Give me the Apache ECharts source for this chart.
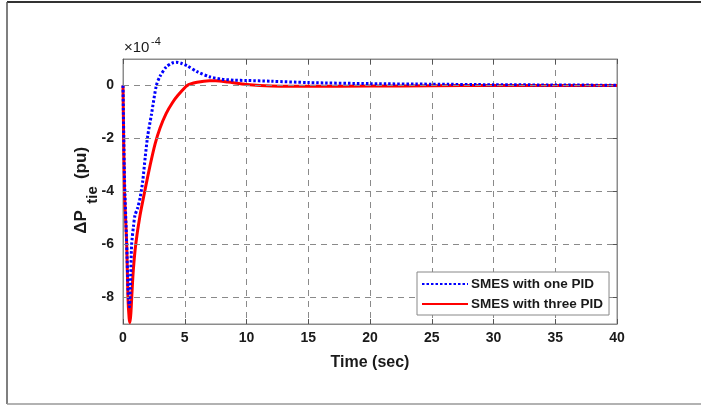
<!DOCTYPE html>
<html>
<head>
<meta charset="utf-8">
<script src="https://cdn.jsdelivr.net/npm/echarts@6/dist/echarts.min.js"></script>
<style>
    html, body { margin: 0; padding: 0; background: #fff; }
    #chart { width: 701px; height: 409px; }
</style>
</head>
<body>
<div id="chart"></div>
<script>
    // values in units of 1e-4 pu
    var timeOne = [0, 0.12, 0.3, 0.42, 0.52, 0.6, 0.7, 0.85, 0.97, 1.2, 1.4, 1.6, 1.8, 2.0, 2.3, 2.7, 3.0, 3.5, 4.0, 4.3, 4.7, 5.2, 6, 7, 8, 9, 10, 12, 15, 20, 25, 30, 35, 40];
    var oneValues = [0, -3.5, -6, -7.8, -8.35, -7.6, -6.0, -5.3, -4.9, -4.6, -4.2, -3.6, -2.7, -1.9, -1.1, 0, 0.35, 0.7, 0.85, 0.88, 0.84, 0.74, 0.52, 0.33, 0.24, 0.2, 0.19, 0.16, 0.11, 0.07, 0.05, 0.03, 0.02, 0.01];
    var timeThree = [0, 0.12, 0.3, 0.4, 0.5, 0.57, 0.65, 0.7, 0.83, 1.03, 1.38, 1.8, 2.2, 2.6, 3.0, 3.5, 4.0, 4.4, 5.2, 6, 7, 7.5, 8.5, 10, 12, 15, 20, 25, 30, 40];
    var threeValues = [0, -4, -6, -8, -8.8, -8.95, -8.5, -8.05, -7.0, -6.0, -4.9, -3.9, -3.0, -2.2, -1.6, -1.05, -0.65, -0.4, 0, 0.12, 0.18, 0.18, 0.13, 0.04, -0.02, -0.03, -0.02, -0.01, 0, 0];
    var yTicks = [-8, -6, -4, -2, 0];
    var seriesNames = ['SMES with one PID', 'SMES with three PID'];

    var font = 'Liberation Sans, Arial, sans-serif';
    var boxColor = '#8c8c8c';
    var gridColor = '#8a8a8a';

    function pairs(xs, ys) {
        return xs.map(function (x, i) { return [x, ys[i]]; });
    }

    var chart = echarts.init(document.getElementById('chart'));

    var xBase = {
        type: 'value',
        min: 0,
        max: 40,
        interval: 5,
        axisLine: { show: true, onZero: false, lineStyle: { color: boxColor, width: 1 } },
        axisTick: { show: true, inside: true, length: 5, lineStyle: { color: '#555' } },
        splitLine: { show: false }
    };
    var yBase = {
        type: 'value',
        min: -9,
        max: 1,
        interval: 1,
        axisLine: { show: true, onZero: false, lineStyle: { color: boxColor, width: 1 } },
        axisTick: { show: true, inside: true, length: 5, customValues: yTicks, lineStyle: { color: '#555' } },
        splitLine: { show: false }
    };

    var option = {
        animation: false,
        backgroundColor: '#fff',
        grid: { left: 123, right: 84, top: 59, bottom: 85, show: true, borderColor: boxColor, borderWidth: 1 },
        xAxis: [
            Object.assign({}, xBase, {
                position: 'bottom',
                name: 'Time (sec)',
                nameLocation: 'middle',
                nameGap: 31,
                nameTextStyle: { fontFamily: font, fontWeight: 'bold', fontSize: 16, color: '#1a1a1a' },
                axisLabel: { fontFamily: font, fontWeight: 'bold', fontSize: 14, color: '#1a1a1a', margin: 7 },
                splitLine: { show: true, lineStyle: { color: gridColor, type: [6, 5], width: 1 } }
            }),
            Object.assign({}, xBase, { position: 'top', axisLabel: { show: false } })
        ],
        yAxis: [
            Object.assign({}, yBase, {
                position: 'left',
                axisLabel: {
                    customValues: yTicks,
                    fontFamily: font, fontWeight: 'bold', fontSize: 14, color: '#1a1a1a', margin: 9
                }
            }),
            Object.assign({}, yBase, { position: 'right', axisLabel: { show: false } })
        ],
        legend: {
            data: seriesNames,
            orient: 'vertical',
            left: 417,
            top: 272,
            z: 20,
            itemWidth: 46,
            itemHeight: 14,
            itemGap: 6,
            padding: [5, 6, 4, 4],
            borderColor: '#888',
            borderWidth: 1,
            backgroundColor: '#fff',
            itemStyle: { opacity: 0 },
            textStyle: { fontFamily: font, fontWeight: 'bold', fontSize: 13.5, color: '#1a1a1a', padding: [0, 0, 0, -2] }
        },
        series: [
            {
                name: seriesNames[0],
                type: 'line',
                data: pairs(timeOne, oneValues),
                smooth: 0.25,
                showSymbol: false,
                symbol: 'none',
                z: 3,
                lineStyle: { color: '#0000ff', width: 3, type: [2.5, 2] },
                itemStyle: { color: '#0000ff' },
                markLine: {
                    silent: true,
                    symbol: 'none',
                    label: { show: false },
                    lineStyle: { color: gridColor, type: [6, 5], width: 1 },
                    data: yTicks.map(function (v) { return { yAxis: v }; })
                }
            },
            {
                name: seriesNames[1],
                type: 'line',
                data: pairs(timeThree, threeValues),
                smooth: 0.25,
                showSymbol: false,
                symbol: 'none',
                z: 2,
                lineStyle: { color: '#ff0000', width: 3 },
                itemStyle: { color: '#ff0000' }
            }
        ],
        graphic: [
            { type: 'line', shape: { x1: 7, y1: 2, x2: 701, y2: 2 }, style: { stroke: '#333', lineWidth: 2 } },
            { type: 'line', shape: { x1: 7, y1: 2, x2: 7, y2: 404 }, style: { stroke: '#555', lineWidth: 1.5 } },
            { type: 'line', shape: { x1: 7, y1: 404, x2: 701, y2: 404 }, style: { stroke: '#999', lineWidth: 1.5 } },
            { type: 'text', x: 124, y: 48, style: { text: '×10', font: '15px ' + font, fill: '#1a1a1a', textVerticalAlign: 'middle' } },
            { type: 'text', x: 151, y: 42, style: { text: '-4', font: '11px ' + font, fill: '#1a1a1a', textVerticalAlign: 'middle' } },
            { type: 'text', x: 81, y: 222, rotation: Math.PI / 2, style: { text: 'ΔP', font: 'bold 17px ' + font, fill: '#1a1a1a', textAlign: 'center', textVerticalAlign: 'middle' } },
            { type: 'text', x: 93, y: 195, rotation: Math.PI / 2, style: { text: 'tie', font: 'bold 15px ' + font, fill: '#1a1a1a', textAlign: 'center', textVerticalAlign: 'middle' } },
            { type: 'text', x: 81, y: 163, rotation: Math.PI / 2, style: { text: '(pu)', font: 'bold 17px ' + font, fill: '#1a1a1a', textAlign: 'center', textVerticalAlign: 'middle' } }
        ]
    };

    chart.setOption(option);
</script>
</body>
</html>
